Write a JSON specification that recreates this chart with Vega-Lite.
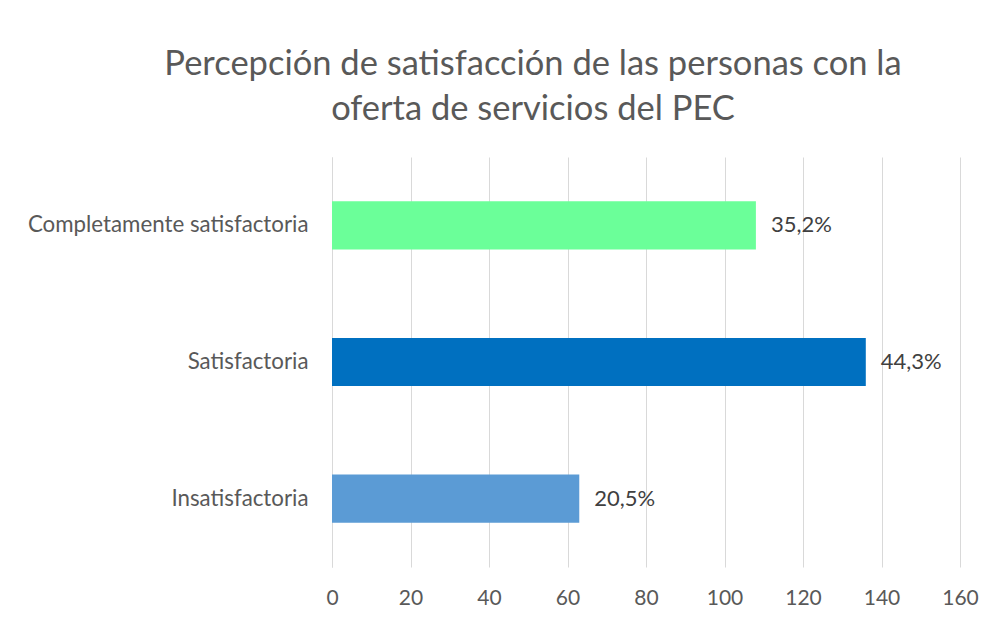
{
  "$schema": "https://vega.github.io/schema/vega-lite/v6.json",
  "width": 628,
  "height": 410,
  "autosize": "none",
  "padding": {"left": 332, "top": 157, "right": 35, "bottom": 52},
  "background": "white",
  "title": {
    "text": ["Percepción de satisfacción de las personas con la", "oferta de servicios del PEC"],
    "font": "Lato",
    "fontSize": 34.5,
    "fontWeight": "normal",
    "color": "#595959",
    "anchor": "middle",
    "dx": -113,
    "offset": 30,
    "lineHeight": 45
  },
  "config": {"view": {"stroke": null}},
  "data": {
    "values": [
      {"categoria": "Completamente satisfactoria", "valor": 108, "etiqueta": "35,2%", "color": "#6BFF99"},
      {"categoria": "Satisfactoria", "valor": 136, "etiqueta": "44,3%", "color": "#0070C0"},
      {"categoria": "Insatisfactoria", "valor": 63, "etiqueta": "20,5%", "color": "#5B9BD5"}
    ]
  },
  "encoding": {
    "y": {
      "field": "categoria",
      "type": "nominal",
      "sort": ["Completamente satisfactoria", "Satisfactoria", "Insatisfactoria"],
      "scale": {"paddingInner": 0.648, "paddingOuter": 0.324},
      "axis": {
        "title": null,
        "ticks": false,
        "grid": false,
        "domainColor": "#D9D9D9",
        "domainWidth": 1,
        "labelPadding": 24,
        "labelFont": "Lato",
        "labelFontSize": 22.3,
        "labelColor": "#595959",
        "labelLimit": 400
      }
    },
    "x": {
      "field": "valor",
      "type": "quantitative",
      "scale": {"domain": [0, 160], "nice": false},
      "axis": {
        "title": null,
        "values": [0, 20, 40, 60, 80, 100, 120, 140, 160],
        "grid": true,
        "gridColor": "#D9D9D9",
        "gridWidth": 1,
        "domain": false,
        "ticks": false,
        "labelFlush": false,
        "labelPadding": 20,
        "labelFont": "Lato",
        "labelFontSize": 21,
        "labelColor": "#595959"
      }
    }
  },
  "layer": [
    {
      "mark": {"type": "bar"},
      "encoding": {
        "color": {"field": "color", "type": "nominal", "scale": null}
      }
    },
    {
      "mark": {"type": "text", "align": "left", "baseline": "middle", "dx": 15, "font": "Lato", "fontSize": 22, "color": "#404040"},
      "encoding": {"text": {"field": "etiqueta"}}
    }
  ]
}
